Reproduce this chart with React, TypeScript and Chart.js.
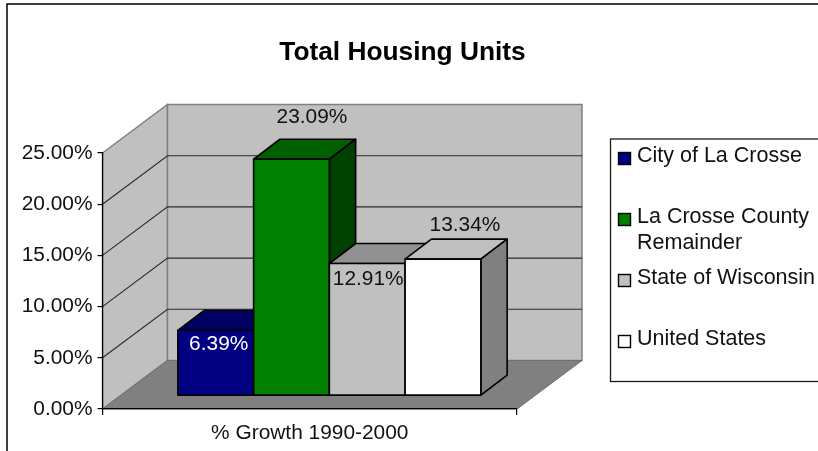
import React, { useEffect, useRef } from "react";
import { Chart, registerables } from "chart.js";

Chart.register(...registerables);

const categories = ["% Growth 1990-2000"];
const chartTitle = "Total Housing Units";
const seriesLegendLines = [
  ["City of La Crosse"],
  ["La Crosse County", "Remainder"],
  ["State of Wisconsin"],
  ["United States"],
];
const seriesValues = [6.39, 23.09, 12.91, 13.34];
const seriesFront = ["#000080", "#008000", "#C0C0C0", "#FFFFFF"];
const seriesTop = ["#000060", "#006000", "#909090", "#BFBFBF"];
const seriesSide = ["#000040", "#004000", "#606060", "#808080"];
const labelColors = ["#FFFFFF", "#111111", "#111111", "#111111"];

const FONT = "'Liberation Sans', Arial, sans-serif";
const TICK_SIZE = 20.9;
const LEGEND_SIZE = 21.5;
const TITLE_SIZE = 26.3;
const AREA = { left: 102.5, right: 517, top: 153, bottom: 409 };
const WALL = { dx: 65, dy: -48.5 };
const BAR_SHIFT = { x: 19.6, y: -13.3 };
const BAR_DEPTH = { dx: 26.3, dy: -20 };
const LABEL_OFFSETS = [
  { x: 3, y: 14 },
  { x: 20.5, y: -42 },
  { x: 1, y: 16 },
  { x: 22, y: -34 },
];
const LEGEND_ROWS = [156, 217, 278, 339];

const poly = (ctx: any, pts: number[][], fill: string, stroke?: string, lw = 1) => {
  ctx.beginPath();
  pts.forEach(([x, y], i) => (i ? ctx.lineTo(x, y) : ctx.moveTo(x, y)));
  ctx.closePath();
  ctx.fillStyle = fill;
  ctx.fill();
  if (stroke) {
    ctx.strokeStyle = stroke;
    ctx.lineWidth = lw;
    ctx.stroke();
  }
};

const scenePlugin = {
  id: "scene",
  beforeDraw(chart: any) {
    const { ctx, chartArea: a, scales } = chart;
    const y = scales.y;
    const { dx, dy } = WALL;
    ctx.save();
    ctx.fillStyle = "#FFFFFF";
    ctx.fillRect(0, 0, chart.width, chart.height);
    ctx.strokeStyle = "#000000";
    ctx.lineWidth = 1.5;
    ctx.strokeRect(7, 4, 1000, 800);

    // walls and floor
    poly(ctx, [[a.left, a.top], [a.left + dx, a.top + dy], [a.left + dx, a.bottom + dy], [a.left, a.bottom]], "#C0C0C0", "#808080", 1.5);
    poly(ctx, [[a.left + dx, a.top + dy], [a.right + dx, a.top + dy], [a.right + dx, a.bottom + dy], [a.left + dx, a.bottom + dy]], "#C0C0C0", "#808080", 1.5);
    poly(ctx, [[a.left, a.bottom], [a.left + dx, a.bottom + dy], [a.right + dx, a.bottom + dy], [a.right, a.bottom]], "#808080", "#707070", 1);

    // gridlines on the walls
    ctx.strokeStyle = "#2a2a2a";
    ctx.lineWidth = 1.1;
    y.ticks.forEach((t: any) => {
      if (t.value === y.min || t.value === y.max) return;
      const py = y.getPixelForValue(t.value);
      ctx.beginPath();
      ctx.moveTo(a.left, py);
      ctx.lineTo(a.left + dx, py + dy);
      ctx.lineTo(a.right + dx, py + dy);
      ctx.stroke();
    });
    ctx.restore();
  },
  beforeDatasetsDraw(chart: any) {
    const { ctx, chartArea: a } = chart;
    const { dx, dy } = BAR_DEPTH;
    ctx.save();
    ctx.translate(BAR_SHIFT.x, BAR_SHIFT.y);
    ctx.lineJoin = "round";
    chart.data.datasets.forEach((_: any, i: number) => {
      const bar = chart.getDatasetMeta(i).data[0];
      const l = bar.x - bar.width / 2;
      const r = bar.x + bar.width / 2;
      const t = bar.y;
      const b = bar.base;
      poly(ctx, [[l, t], [l + dx, t + dy], [r + dx, t + dy], [r, t]], seriesTop[i], "#000000", 1.6);
      poly(ctx, [[r, t], [r + dx, t + dy], [r + dx, b + dy], [r, b]], seriesSide[i], "#000000", 1.6);
      bar.draw(ctx, a);
      ctx.strokeStyle = "#000000";
      ctx.lineWidth = 1.6;
      ctx.strokeRect(l, t, r - l, b - t);
    });
    ctx.restore();

    // value labels
    ctx.save();
    ctx.font = `${TICK_SIZE}px ${FONT}`;
    ctx.textAlign = "center";
    ctx.textBaseline = "middle";
    chart.data.datasets.forEach((ds: any, i: number) => {
      const bar = chart.getDatasetMeta(i).data[0];
      ctx.fillStyle = labelColors[i];
      ctx.fillText(
        `${ds.data[0].toFixed(2)}%`,
        bar.x + BAR_SHIFT.x + LABEL_OFFSETS[i].x,
        bar.y + BAR_SHIFT.y + LABEL_OFFSETS[i].y
      );
    });
    ctx.restore();
    return false;
  },
  afterDraw(chart: any) {
    const { ctx } = chart;
    ctx.save();
    // legend frame
    ctx.strokeStyle = "#1a1a1a";
    ctx.lineWidth = 1.3;
    ctx.strokeRect(610.5, 139, 400, 242.5);
    ctx.font = `${LEGEND_SIZE}px ${FONT}`;
    ctx.textBaseline = "middle";
    ctx.textAlign = "left";
    seriesLegendLines.forEach((lines, i) => {
      const rowY = LEGEND_ROWS[i];
      ctx.fillStyle = seriesFront[i];
      ctx.fillRect(618.5, rowY - 3.5, 12, 12);
      ctx.strokeStyle = "#000000";
      ctx.lineWidth = 1.4;
      ctx.strokeRect(618.5, rowY - 3.5, 12, 12);
      ctx.fillStyle = "#111111";
      lines.forEach((line, k) => ctx.fillText(line, 637, rowY + k * 26));
    });
    ctx.restore();
  },
};

export default function App() {
  const ref = useRef<HTMLCanvasElement>(null);
  useEffect(() => {
    document.body.style.margin = "0";
    const chart = new Chart(ref.current as HTMLCanvasElement, {
      type: "bar",
      data: {
        labels: categories,
        datasets: seriesLegendLines.map((lines, i) => ({
          label: lines.join(" "),
          data: [seriesValues[i]],
          backgroundColor: seriesFront[i],
          borderWidth: 0,
          barPercentage: 1,
          categoryPercentage: 303 / 414.5,
        })),
      },
      options: {
        responsive: false,
        animation: false,
        layout: { padding: { left: 7, right: 20, top: 0, bottom: 0 } },
        plugins: {
          legend: { display: false },
          tooltip: { enabled: false },
          title: {
            display: true,
            text: chartTitle,
            color: "#000000",
            font: { family: FONT, size: TITLE_SIZE, weight: "bold" },
            padding: { top: 53 - TITLE_SIZE * 0.6, bottom: 153 - 53 - TITLE_SIZE * 0.6 },
          },
        },
        scales: {
          x: {
            grid: { display: true, drawOnChartArea: false, color: "#000000", tickLength: 6, lineWidth: 1.2 },
            border: { display: true, color: "#000000", width: 1.2 },
            ticks: { color: "#111111", font: { family: FONT, size: TICK_SIZE }, padding: 6 },
            afterFit: (s: any) => { s.height = 451 - AREA.bottom; },
          },
          y: {
            min: 0,
            max: 25,
            grid: { display: true, drawOnChartArea: false, color: "#000000", tickLength: 5, lineWidth: 1.2 },
            border: { display: true, color: "#000000", width: 1.2 },
            ticks: {
              stepSize: 5,
              color: "#111111",
              font: { family: FONT, size: TICK_SIZE },
              padding: 5,
              callback: (v: any) => `${Number(v).toFixed(2)}%`,
            },
            afterFit: (s: any) => { s.width = AREA.left - 7; },
          },
          reserve: {
            type: "linear",
            position: "right",
            display: true,
            grid: { display: false },
            border: { display: false },
            ticks: { display: false },
            afterFit: (s: any) => { s.width = 818 - 20 - AREA.right; },
          },
        },
      } as any,
      plugins: [scenePlugin],
    } as any);
    return () => chart.destroy();
  }, []);
  return <canvas ref={ref} width={818} height={451} style={{ display: "block" }} />;
}
